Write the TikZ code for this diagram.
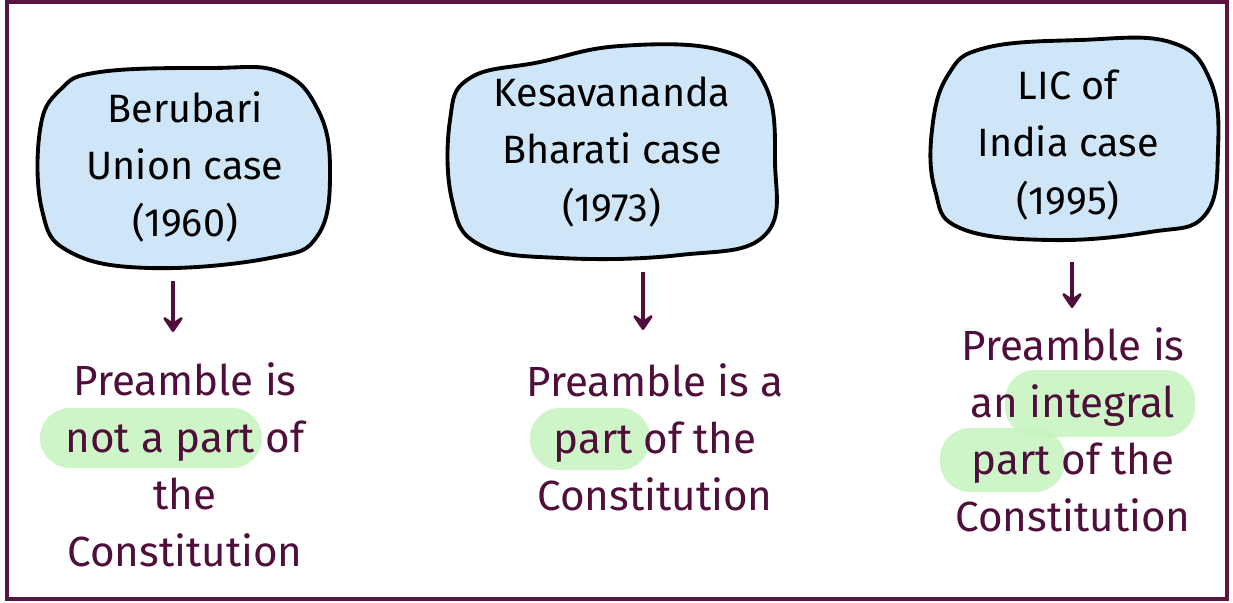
\documentclass[tikz,border=0pt]{standalone}
\usepackage{fontspec}
\setmainfont{Fira Sans}
\usepackage{xcolor}
\usetikzlibrary{arrows, arrows.meta}

\definecolor{framecol}{HTML}{5A1440}
\definecolor{textcol}{HTML}{4F0F3A}
\definecolor{blobfill}{HTML}{CFE6F9}
\definecolor{hlgreen}{HTML}{C6F3BE}

\tikzset{
  blob/.style={fill=blobfill, draw=black, line width=2.2pt, line join=round},
  casetxt/.style={align=center, text=black, font=\fontsize{22.5}{32.5}\selectfont},
  outtxt/.style={align=center, text=textcol, font=\fontsize{24}{32.5}\selectfont},
  hl/.style={fill=hlgreen, fill opacity=0.85, rounded corners=0.6cm},
  arr/.style={draw=textcol, line width=2.4pt, -{Stealth[length=11pt,width=15pt,inset=5pt,round]}}
}

\begin{document}
\begin{tikzpicture}[x=0.02cm, y=-0.02cm]
%\draw[step=50,gray,very thin] (0,0) grid (1233,602); %background grid
\useasboundingbox (0,0) rectangle (1233,602);
\draw[framecol, line width=2.4pt] (7,2) rectangle (1227,599);

% blobs
\draw[blob] plot[smooth cycle, tension=0.7] coordinates {(100,72) (210,68) (280,72) (318,110) (330,170) (318,235) (270,258) (150,268) (70,252) (42,210) (40,130) (60,90)};
\draw[blob] plot[smooth cycle, tension=0.7] coordinates {(470,78) (540,62) (620,46) (720,50) (765,85) (775,160) (765,235) (680,255) (560,258) (480,245) (452,200) (450,120)};
\draw[blob] plot[smooth cycle, tension=0.7] coordinates {(985,48) (1080,40) (1170,42) (1210,80) (1218,150) (1205,215) (1150,232) (1050,240) (960,228) (935,190) (932,130) (948,75)};

\node[casetxt] (b1) at (185,167) {Berubari\\Union case\\(1960)};
\node[casetxt] (b2) at (612,152) {Kesavananda\\Bharati case\\(1973)};
\node[casetxt] (b3) at (1068,145) {LIC of\\India case\\(1995)};

% highlights
\fill[hl] (40,408) rectangle (262,468);
\fill[hl] (530,408) rectangle (650,470);
\fill[hl] (1005,370) rectangle (1195,437);
\fill[hl] (940,428) rectangle (1065,492);

\node[outtxt] (o1) at (185,465) {Preamble is\\not a part of\\the\\Constitution};
\node[outtxt] (o2) at (655,437) {Preamble is a\\part of the\\Constitution};
\node[outtxt] (o3) at (1073,430) {Preamble is\\an integral\\part of the\\Constitution};

\coordinate (a1s) at (173,281);
\coordinate (a1e) at (173,332);
\coordinate (a2s) at (643,272);
\coordinate (a2e) at (643,330);
\coordinate (a3s) at (1072,262);
\coordinate (a3e) at (1072,308);
\draw[arr] (a1s) -- (a1e);
\draw[arr] (a2s) -- (a2e);
\draw[arr] (a3s) -- (a3e);
\end{tikzpicture}
\end{document}
